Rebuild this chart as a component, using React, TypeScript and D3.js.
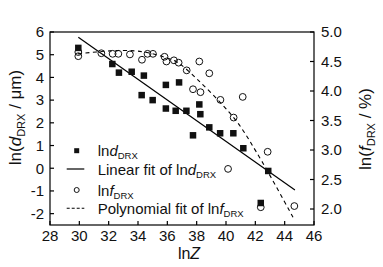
import React from "react";
import * as d3 from "d3";

const W = 383;
const H = 267;

// ln d_DRX (squares, left axis)
const dLnZ = [29.93, 32.25, 32.7, 33.57, 34.4, 34.25, 35.0, 35.9, 35.9, 36.57, 36.8, 37.3, 38.18, 38.25, 37.75, 38.86, 39.6, 40.5, 41.18, 42.88, 42.37];
const dLnD = [5.3, 4.59, 4.21, 4.25, 4.08, 3.22, 3.0, 3.67, 2.63, 2.53, 3.78, 2.53, 2.81, 2.38, 1.45, 1.8, 1.54, 1.54, 0.88, -0.12, -1.53];

// ln f_DRX (circles, right axis)
const fLnZ = [29.93, 29.93, 31.5, 32.27, 32.66, 33.45, 34.27, 34.65, 35.02, 35.81, 35.94, 36.45, 36.77, 38.18, 37.32, 38.86, 37.75, 38.26, 39.62, 41.14, 40.52, 40.14, 42.84, 42.37, 44.66];
const fLnF = [4.66, 4.59, 4.64, 4.63, 4.63, 4.62, 4.53, 4.63, 4.63, 4.58, 4.5, 4.52, 4.48, 4.5, 4.35, 4.3, 4.03, 3.98, 3.85, 3.9, 3.55, 2.68, 2.97, 2.03, 2.05];

// linear fit of ln d_DRX: y = a + b x
const linIntercept = 19.4;
const linSlope = -0.4555;
const linRange = [29.93, 44.7];

// polynomial fit of ln f_DRX
const polyX = [29.91, 32.09, 33.8, 34.82, 35.84, 36.59, 37.34, 40.55, 42.11, 44.57];
const polyY = [4.63, 4.68, 4.68, 4.64, 4.57, 4.5, 4.36, 3.54, 2.95, 1.86];

const xTicks = [28, 30, 32, 34, 36, 38, 40, 42, 44, 46];
const yLeftTicks = [-2, -1, 0, 1, 2, 3, 4, 5, 6];
const yRightTicks = [2.0, 2.5, 3.0, 3.5, 4.0, 4.5, 5.0];

const FONT = "'Liberation Sans', Arial, sans-serif";

export default function App() {
  const left = 50, right = 314, top = 32, bottom = 225;
  const x = d3.scaleLinear().domain([28, 46]).range([left, right]);
  const yL = d3.scaleLinear().domain([-2.5, 6]).range([bottom, top]);
  const yR = d3.scaleLinear().domain([1.729, 5.0]).range([bottom, top]);

  const linLine = d3.line<number>().x((v) => x(v)).y((v) => yL(linIntercept + linSlope * v));
  const polyLine = d3
    .line<number>()
    .x((_, i) => x(polyX[i]))
    .y((_, i) => yR(polyY[i]))
    .curve(d3.curveCatmullRom.alpha(0.5));

  const sq = 6.5;
  const tickLen = 4;
  const fs = 15;
  const sub = 9.5;
  const tfs = 17;
  const tsub = 11;

  return (
    <svg width={W} height={H} style={{ position: "absolute", left: 0, top: 0, background: "#fff" }} fontFamily={FONT}>
      <rect x={0} y={0} width={W} height={H} fill="#fff" />
      {/* frame */}
      <rect x={left} y={top} width={right - left} height={bottom - top} fill="none" stroke="#000" strokeWidth={1.2} />
      {/* x ticks */}
      {xTicks.map((t) => (
        <g key={"x" + t}>
          <line x1={x(t)} x2={x(t)} y1={bottom} y2={bottom - tickLen} stroke="#000" strokeWidth={1.2} />
          <text x={x(t)} y={240.5} textAnchor="middle" fontSize={fs} fill="#111">{t}</text>
        </g>
      ))}
      {yLeftTicks.map((t) => (
        <g key={"yl" + t}>
          <line x1={left} x2={left + tickLen} y1={yL(t)} y2={yL(t)} stroke="#000" strokeWidth={1.2} />
          <text x={44} y={yL(t) + 5.3} textAnchor="end" fontSize={fs} fill="#111">{t}</text>
        </g>
      ))}
      {yRightTicks.map((t) => (
        <g key={"yr" + t}>
          <line x1={right} x2={right - tickLen} y1={yR(t)} y2={yR(t)} stroke="#000" strokeWidth={1.2} />
          <text x={321} y={yR(t) + 5.3} textAnchor="start" fontSize={fs} fill="#111">{t.toFixed(1)}</text>
        </g>
      ))}

      {/* fits */}
      <path d={linLine(linRange) || ""} fill="none" stroke="#000" strokeWidth={1.2} />
      <path d={polyLine(polyX) || ""} fill="none" stroke="#000" strokeWidth={1.1} strokeDasharray="4,3.5" />

      {/* squares */}
      {dLnZ.map((v, i) => (
        <rect key={"s" + i} x={x(v) - sq / 2} y={yL(dLnD[i]) - sq / 2} width={sq} height={sq} fill="#111" />
      ))}
      {/* circles */}
      {fLnZ.map((v, i) => (
        <circle key={"c" + i} cx={x(v)} cy={yR(fLnF[i])} r={3.4} fill="none" stroke="#111" strokeWidth={1} />
      ))}

      {/* legend */}
      <rect x={76.7 - 2.5} y={150.7 - 2.5} width={5} height={5} fill="#111" />
      <text x={97.7} y={156} fontSize={fs} fill="#111">
        ln<tspan fontStyle="italic">d</tspan>
        <tspan fontSize={sub} dy={3}>DRX</tspan>
      </text>
      <line x1={66.7} x2={84.3} y1={169} y2={169} stroke="#000" strokeWidth={1.2} />
      <text x={97.7} y={174.5} fontSize={fs} fill="#111">
        Linear fit of ln<tspan fontStyle="italic">d</tspan>
        <tspan fontSize={sub} dy={3}>DRX</tspan>
      </text>
      <circle cx={76.7} cy={190} r={2.5} fill="none" stroke="#111" strokeWidth={1} />
      <text x={97.7} y={195.5} fontSize={fs} fill="#111">
        ln<tspan fontStyle="italic">f</tspan>
        <tspan fontSize={sub} dy={3}>DRX</tspan>
      </text>
      <line x1={66.7} x2={84.3} y1={208.3} y2={208.3} stroke="#000" strokeWidth={1.1} strokeDasharray="3,2" />
      <text x={97.7} y={213.5} fontSize={fs} fill="#111">
        Polynomial fit of ln<tspan fontStyle="italic">f</tspan>
        <tspan fontSize={sub} dy={3}>DRX</tspan>
      </text>

      {/* axis titles */}
      <text x={189} y={258.5} textAnchor="middle" fontSize={fs + 1} fill="#111">
        ln<tspan fontStyle="italic">Z</tspan>
      </text>
      <text transform="translate(21,117.5) rotate(-90)" textAnchor="middle" fontSize={tfs} fill="#111">
        ln(<tspan fontStyle="italic">d</tspan>
        <tspan fontSize={tsub} dy={3.5}>DRX</tspan>
        <tspan dy={-3.5}> / μm)</tspan>
      </text>
      <text transform="translate(371,129) rotate(-90)" textAnchor="middle" fontSize={tfs} fill="#111">
        ln(<tspan fontStyle="italic">f</tspan>
        <tspan fontSize={tsub} dy={3.5}>DRX</tspan>
        <tspan dy={-3.5}> / %)</tspan>
      </text>
    </svg>
  );
}
